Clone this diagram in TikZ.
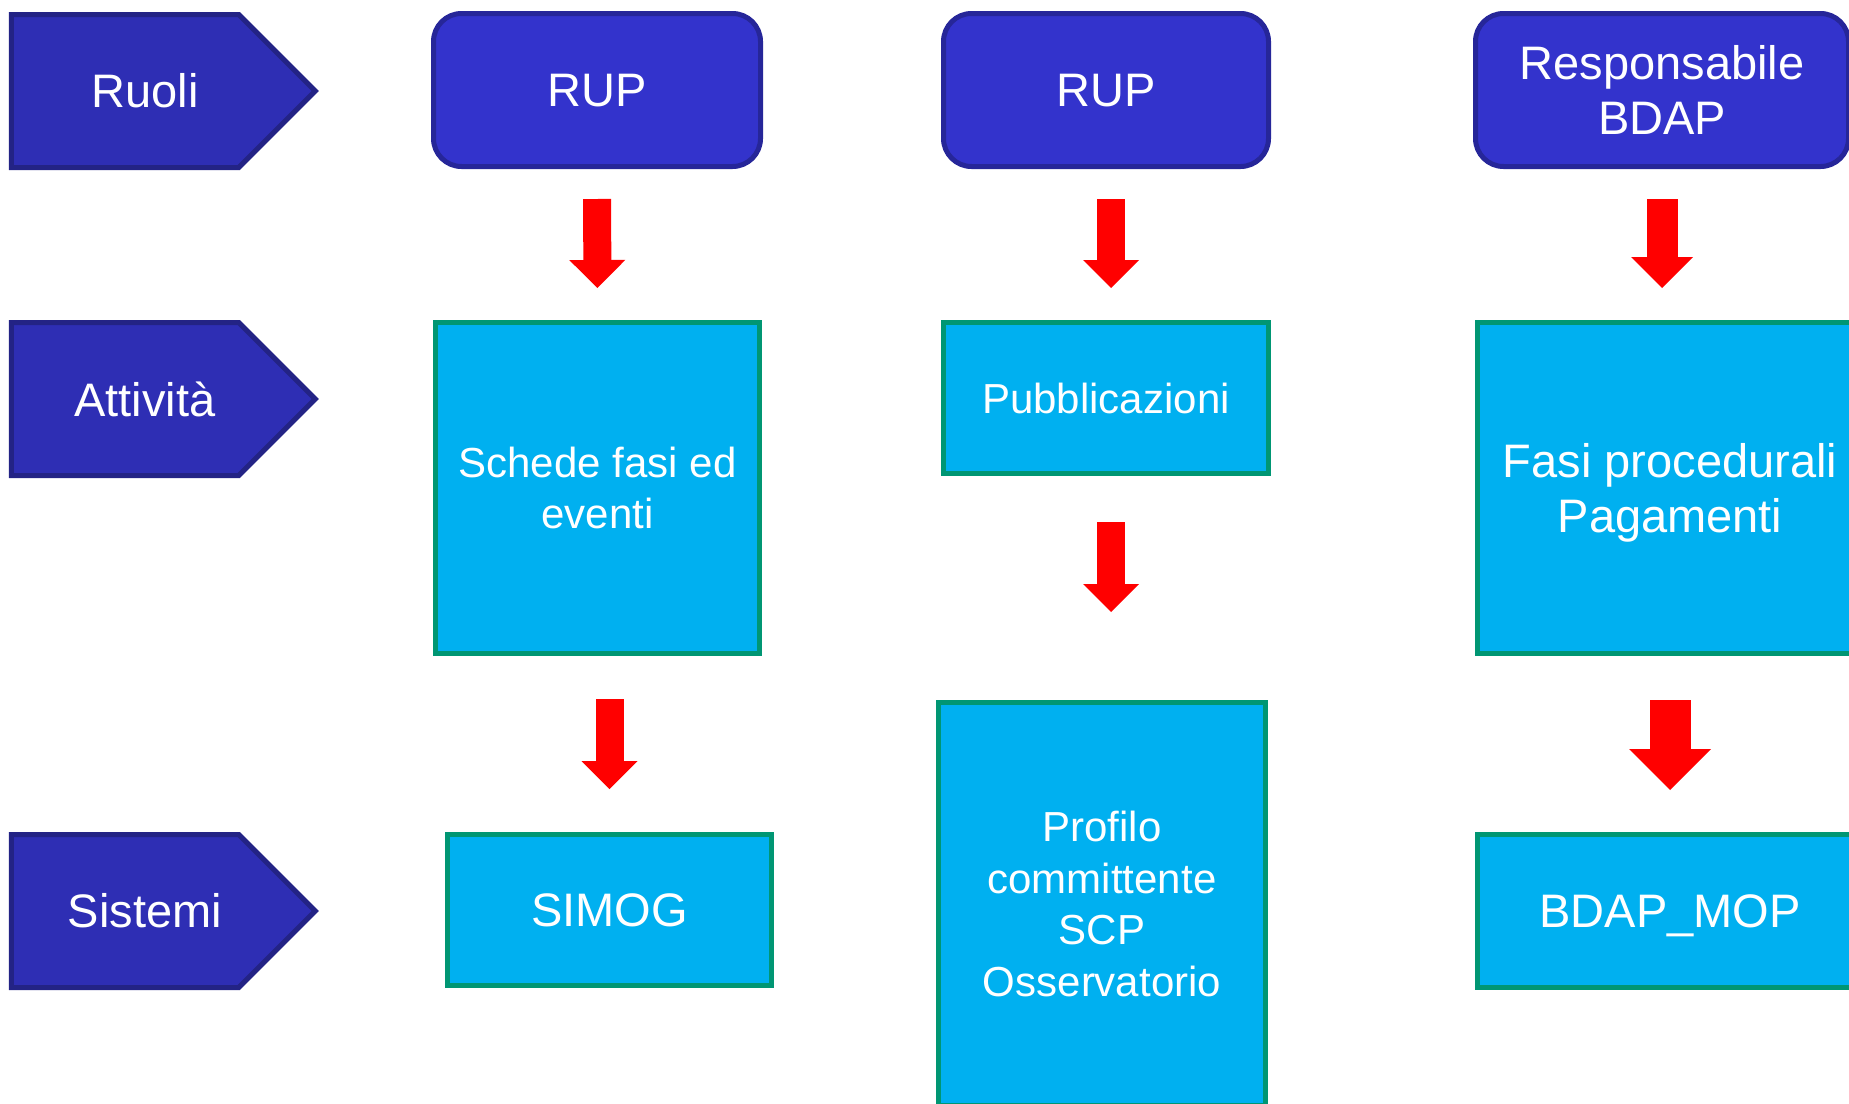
\documentclass[tikz,border=0pt]{standalone}
\usepackage{fontspec}
\setmainfont{Liberation Sans}
\usetikzlibrary{positioning}
\usetikzlibrary{shapes.symbols}
\usetikzlibrary{arrows.meta}
\definecolor{lanefill}{RGB}{46,46,180}
\definecolor{laneline}{RGB}{35,35,133}
\definecolor{rolefill}{RGB}{51,51,204}
\definecolor{roleline}{RGB}{38,38,153}
\definecolor{boxfill}{RGB}{0,176,240}
\definecolor{boxline}{RGB}{0,150,115}
\tikzset{%
  big/.style = {font=\fontsize{47}{55}\selectfont},
  small/.style = {font=\fontsize{42}{51.5}\selectfont},
  lane/.style = {signal,signal to=east,signal pointer angle=90,
        draw=laneline,fill=lanefill,line width=5pt,text=white,
        minimum width=304pt,minimum height=153pt,inner sep=0pt,big,
        execute at begin node=\hspace*{40pt}},
  role/.style = {rectangle,rounded corners=28pt,draw=roleline,fill=rolefill,
        line width=5pt,text=white,align=center,inner sep=0pt,
        minimum height=153pt,text depth=0pt,big},
  b/.style = {rectangle,draw=boxline,fill=boxfill,line width=5pt,
        text=white,align=center,inner sep=0pt,text depth=0pt},
  redarrow/.style = {red,line width=#1,
        -{Triangle[width=0pt 2,length=0pt 1,line width=0pt]}}
}

\begin{document}
\begin{tikzpicture}[x=1pt,y=-1pt]
    \useasboundingbox (0,0) rectangle (1849,1103);

    % righe
    \node[lane] (ruoli) at (125,91) {Ruoli};
    \node[lane] (attivita) at (125,399) {Attività};
    \node[lane] (sistemi) at (125,911) {Sistemi};

    % ruoli
    \node[role,minimum width=327pt] (rup1) at (597,90) {RUP};
    \node[role,minimum width=325pt] (rup2) at (1106,90) {RUP};
    \node[role,minimum width=373pt] (resp) at (1662,90) {Responsabile\\BDAP};

    % attivita e sistemi
    \node[b,small,minimum width=324pt,minimum height=331pt] (schede) at (597.5,488) {Schede fasi ed\\eventi};
    \node[b,small,minimum width=325pt,minimum height=151pt] (pubbl) at (1106,398) {Pubblicazioni};
    \node[b,big,minimum width=385pt,minimum height=331pt] (fasi) at (1670,488) {Fasi procedurali\\Pagamenti};
    \node[b,big,minimum width=324pt,minimum height=151pt] (simog) at (609.5,910) {SIMOG};
    \node[b,small,minimum width=327pt,minimum height=403pt] (profilo) at (1102,904) {Profilo\\committente\\SCP\\Osservatorio};
    \node[b,big,minimum width=385pt,minimum height=153pt] (bdap) at (1670,911) {BDAP\_MOP};

    \draw[redarrow=28pt,shorten <=30pt,shorten >=32pt] (rup1.south) -- (schede.north);
    \draw[redarrow=28pt,shorten <=30pt,shorten >=32pt] ([xshift=5pt]rup2.south) -- ([xshift=5pt]pubbl.north);
    \draw[redarrow=31pt,shorten <=30pt,shorten >=32pt] (resp.south) -- (resp.south |- fasi.north);
    \draw[redarrow=28pt,shorten <=43pt,shorten >=43pt] (schede.south -| simog.north) -- (simog.north);
    \draw[redarrow=28pt,shorten <=46pt,shorten >=88pt] ([xshift=5pt]pubbl.south) -- ([xshift=9pt]profilo.north);
    \draw[redarrow=41pt,shorten <=44pt,shorten >=42pt] (fasi.south) -- (bdap.north);
\end{tikzpicture}
\end{document}
